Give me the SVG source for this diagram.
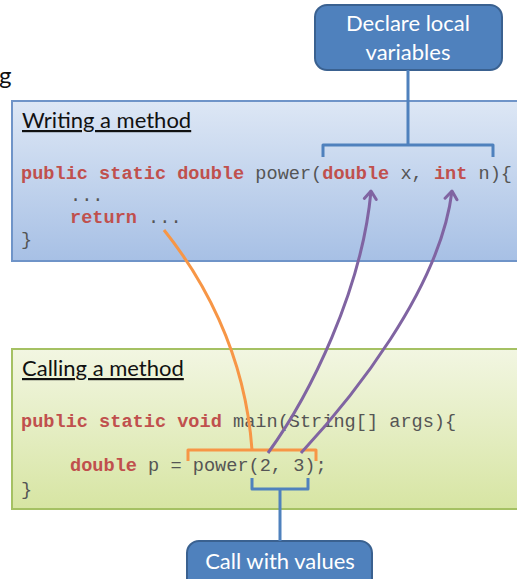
<svg xmlns="http://www.w3.org/2000/svg" width="517" height="579" viewBox="0 0 517 579">
<defs>
<linearGradient id="gBlue" x1="0" y1="0" x2="0" y2="1">
<stop offset="0" stop-color="#dde7f5"/>
<stop offset="1" stop-color="#a7c0e5"/>
</linearGradient>
<linearGradient id="gGreen" x1="0" y1="0" x2="0" y2="1">
<stop offset="0" stop-color="#f2f6e2"/>
<stop offset="1" stop-color="#d7e5a3"/>
</linearGradient>
<marker id="arrP" markerUnits="userSpaceOnUse" markerWidth="16" markerHeight="16" refX="12" refY="8" orient="auto" viewBox="0 0 16 16">
<path d="M4,2 L12,8 L4,14" fill="none" stroke="#8064a2" stroke-width="3" stroke-linecap="round" stroke-linejoin="round"/>
</marker>
</defs>
<style>
.title{font-family:Lato,"Open Sans",sans-serif;font-size:22px;fill:#111;text-decoration:underline}
.code{font-family:"Liberation Mono","DejaVu Sans Mono",monospace;font-size:18.6px;fill:#555555}
.kw{font-weight:bold;fill:#c0504d}
.call{fill:#4f81bd;stroke:#3a6190;stroke-width:2}
.callt{font-family:Lato,"Open Sans",sans-serif;font-size:22px;fill:#ffffff;text-anchor:middle}
.blue{fill:none;stroke:#4f81bd;stroke-width:3;stroke-linejoin:round}
.orange{fill:none;stroke:#f79646;stroke-width:3;stroke-linejoin:round}
.purple{fill:none;stroke:#8064a2;stroke-width:3}
</style>
<text x="-1" y="84" font-family="Lato,'Open Sans',sans-serif" font-size="24" fill="#111">g</text>

<g id="writing">
<rect x="12" y="101" width="520" height="160" fill="url(#gBlue)" stroke="#6f94c8" stroke-width="2"/>
<text class="title" x="22" y="128">Writing a method</text>
<text class="code" x="21" y="179"><tspan class="kw">public static double</tspan> power(<tspan class="kw">double</tspan> x, <tspan class="kw">int</tspan> n){</text>
<text class="code" x="70" y="201">...</text>
<text class="code" x="70" y="223"><tspan class="kw">return</tspan> ...</text>
<text class="code" x="21" y="245">}</text>
</g>

<g id="calling">
<rect x="12" y="349" width="520" height="160" fill="url(#gGreen)" stroke="#a5c163" stroke-width="2"/>
<text class="title" x="22" y="376">Calling a method</text>
<text class="code" x="21" y="427"><tspan class="kw">public static void</tspan> main(String[] args){</text>
<text class="code" x="70" y="471"><tspan class="kw">double</tspan> p = power(2, 3);</text>
<text class="code" x="21" y="495">}</text>
</g>

<g id="declare">
<rect class="call" x="315" y="5" width="187" height="65" rx="12"/>
<text class="callt" x="408" y="31">Declare local</text>
<text class="callt" x="408" y="60">variables</text>
</g>

<g id="callvalues">
<rect class="call" x="187" y="541" width="185" height="50" rx="12"/>
<text class="callt" x="280" y="569">Call with values</text>
</g>

<g id="connectors">
<path class="blue" d="M408,70 L408,145 M323,157 L323,145 L493,145 L493,157"/>
<path class="blue" d="M252,478 L252,489 L308,489 L308,478 M280,489 L280,541"/>
<path class="orange" d="M188,461 L188,450 L316,450 L316,461"/>
<path class="orange" d="M164,230 C200,275 245,350 252,450"/>
<path class="purple" d="M268,453 C310,395 362,290 371,191" marker-end="url(#arrP)"/>
<path class="purple" d="M301,453 C350,400 440,290 452,191" marker-end="url(#arrP)"/>
</g>
</svg>
